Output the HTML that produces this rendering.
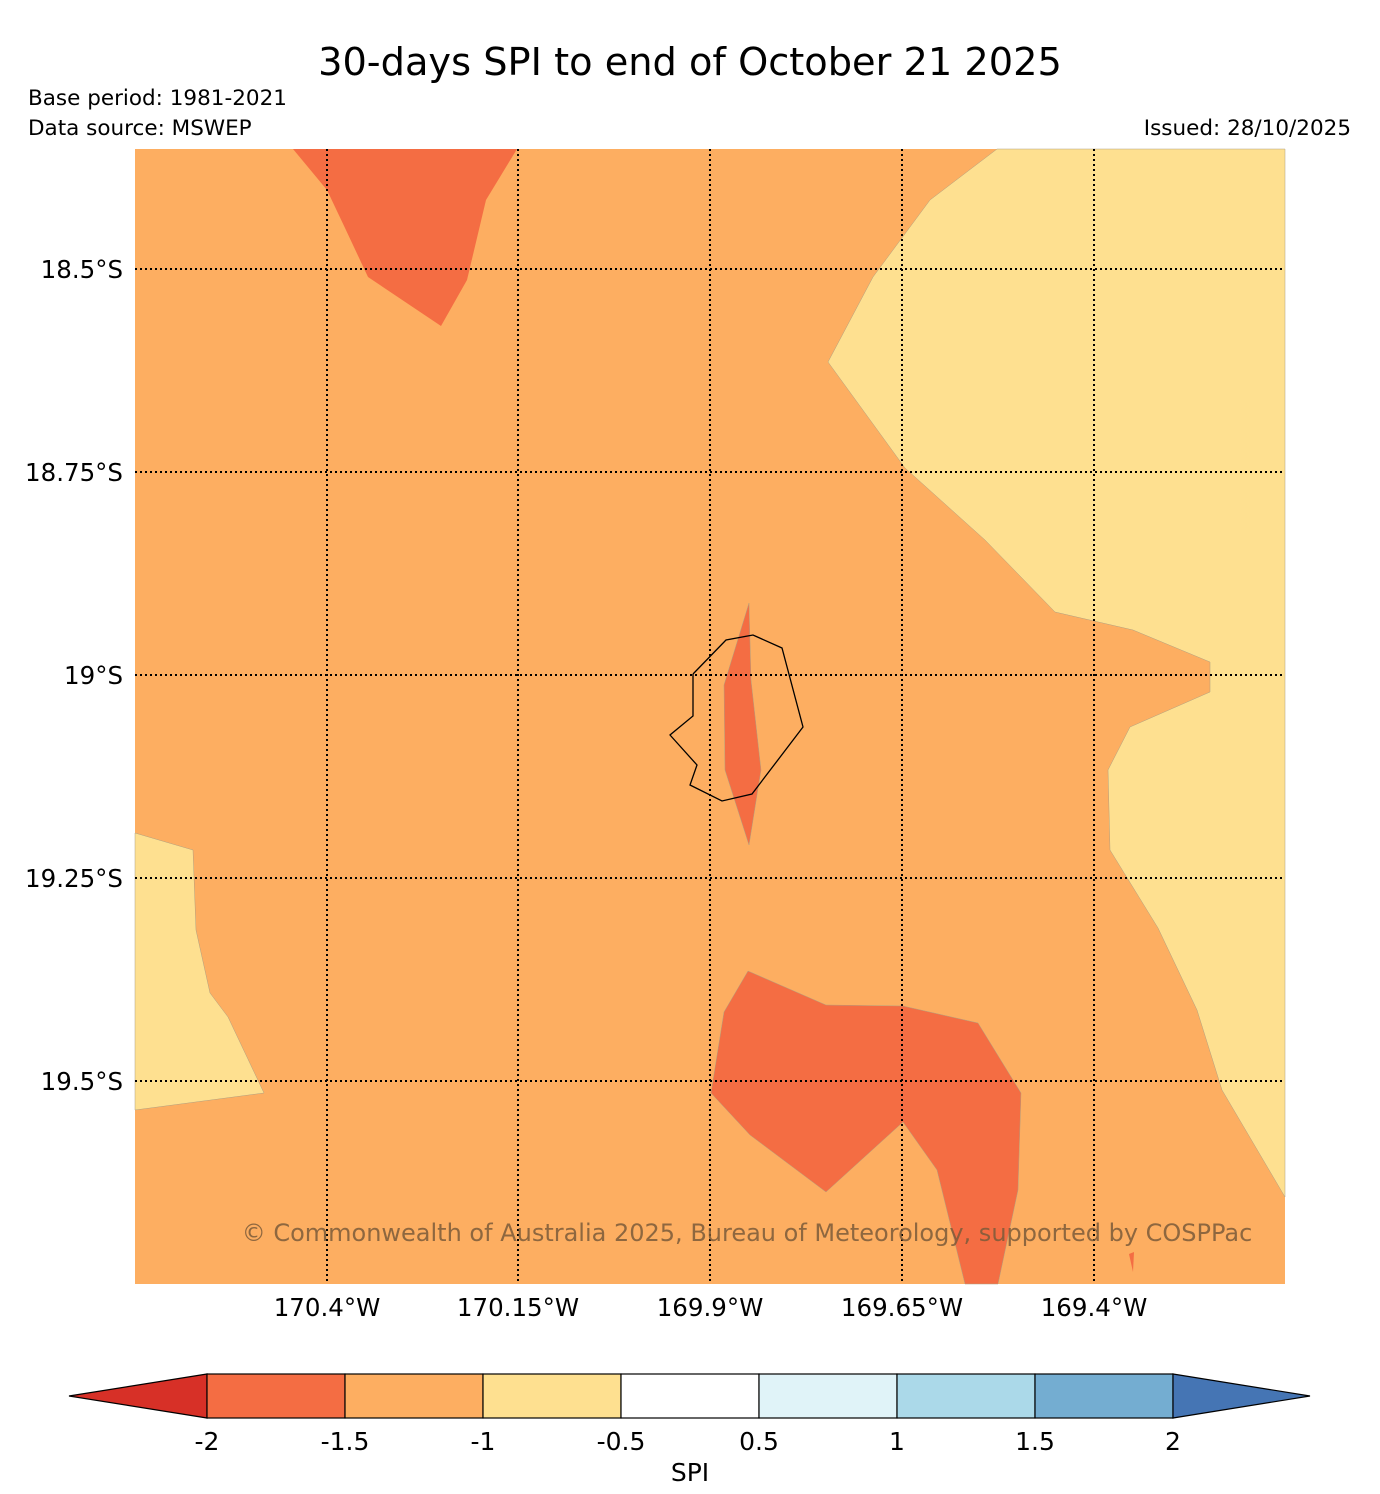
<!DOCTYPE html>
<html><head><meta charset="utf-8"><style>
body{margin:0;background:#fff;}
svg{display:block;font-family:"DejaVu Sans","Liberation Sans",sans-serif;}
</style></head><body>
<svg width="1380" height="1494" viewBox="0 0 1380 1494">
<text x="690" y="75" font-size="38.3" text-anchor="middle">30-days SPI to end of October 21 2025</text>
<text x="28" y="105" font-size="21.5">Base period: 1981-2021</text>
<text x="28" y="135" font-size="21.5">Data source: MSWEP</text>
<text x="1351" y="135" font-size="21.5" text-anchor="end">Issued: 28/10/2025</text>
<g>
<rect x="135" y="149" width="1150" height="1135" fill="#fdae61"/>
<polygon fill="#f46d43" points="293,149 517,149 486,200 467,280 441,326 368,277 345,228 327,190"/>
<polygon fill="#fee090" stroke="#b0a080" stroke-width="0.5" points="997,149 1285,149 1285,1197 1222,1090 1197,1010 1158,928 1110,850 1108,770 1130,727 1210,692 1210,662 1133,630 1055,612 985,540 905,468 828,362 873,277 930,200"/>
<polygon fill="#fee090" stroke="#b0a080" stroke-width="0.5" points="135,833 193,850 196,930 210,993 228,1017 264,1093 135,1110"/>
<polygon fill="#f46d43" stroke="#b0a080" stroke-width="0.5" points="749,603 751,680 761,770 749,845 725,770 724,685"/>
<polygon fill="#f46d43" stroke="#b0a080" stroke-width="0.5" points="748,971 826,1005 903,1006 978,1023 1021,1093 1018,1190 998,1284 965,1284 937,1170 903,1122 826,1192 750,1135 711,1093 724,1012"/>
<polygon fill="#f46d43" points="1129,1254 1134,1252 1133,1272"/>
<g stroke="#000" stroke-width="2" stroke-dasharray="2,3">
<line x1="327" y1="149" x2="327" y2="1284"/><line x1="518" y1="149" x2="518" y2="1284"/><line x1="710" y1="149" x2="710" y2="1284"/><line x1="902" y1="149" x2="902" y2="1284"/><line x1="1094" y1="149" x2="1094" y2="1284"/>
<line x1="135" y1="269" x2="1285" y2="269"/><line x1="135" y1="472" x2="1285" y2="472"/><line x1="135" y1="675" x2="1285" y2="675"/><line x1="135" y1="878" x2="1285" y2="878"/><line x1="135" y1="1081" x2="1285" y2="1081"/>
</g>
<polyline fill="none" stroke="#000" stroke-width="1.3" points="693,674 726,640 753,635 782,648 803,727 752,794 722,801 690,785 697,765 670,735 693,716 693,674"/>
<text x="747" y="1241" font-size="24" text-anchor="middle" fill="#7a5a3a" fill-opacity="0.85">© Commonwealth of Australia 2025, Bureau of Meteorology, supported by COSPPac</text>
</g>
<g font-size="24.5" text-anchor="end">
<text x="123" y="278">18.5°S</text><text x="123" y="481">18.75°S</text><text x="123" y="684">19°S</text><text x="123" y="887">19.25°S</text><text x="123" y="1090">19.5°S</text>
</g>
<g font-size="24.5" text-anchor="middle">
<text x="327" y="1316">170.4°W</text><text x="518" y="1316">170.15°W</text><text x="710" y="1316">169.9°W</text><text x="902" y="1316">169.65°W</text><text x="1094" y="1316">169.4°W</text>
</g>
<g stroke="#000" stroke-width="1.2">
<polygon points="69,1396 207,1374 207,1418" fill="#d73027"/>
<rect x="207" y="1374" width="138" height="44" fill="#f46d43"/>
<rect x="345" y="1374" width="138" height="44" fill="#fdae61"/>
<rect x="483" y="1374" width="138" height="44" fill="#fee090"/>
<rect x="621" y="1374" width="138" height="44" fill="#ffffff"/>
<rect x="759" y="1374" width="138" height="44" fill="#e0f3f8"/>
<rect x="897" y="1374" width="138" height="44" fill="#abd9e9"/>
<rect x="1035" y="1374" width="138" height="44" fill="#74add1"/>
<polygon points="1173,1374 1310,1396 1173,1418" fill="#4575b4"/>
</g>
<g font-size="25" text-anchor="middle">
<text x="207" y="1450">-2</text><text x="345" y="1450">-1.5</text><text x="483" y="1450">-1</text><text x="621" y="1450">-0.5</text><text x="759" y="1450">0.5</text><text x="897" y="1450">1</text><text x="1035" y="1450">1.5</text><text x="1173" y="1450">2</text>
</g>
<text x="690" y="1481" font-size="25" text-anchor="middle">SPI</text>
</svg>
</body></html>
